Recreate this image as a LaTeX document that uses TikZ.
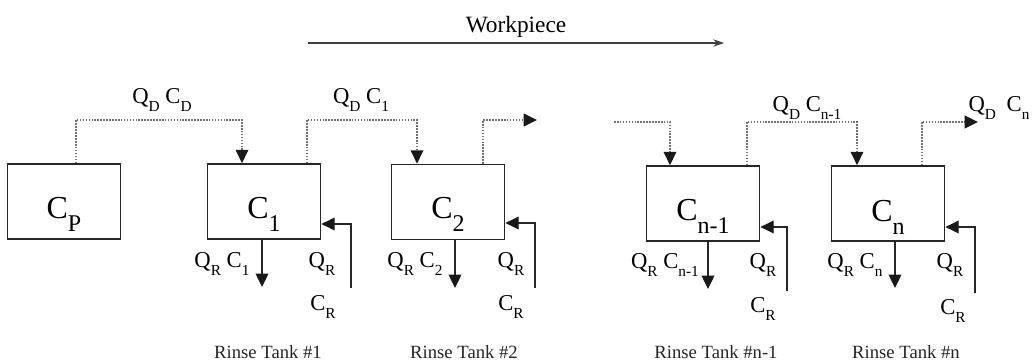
\documentclass[tikz,border=0pt]{standalone}
\usepackage{fontspec}
\setmainfont{Liberation Serif}
\usetikzlibrary{arrows.meta,calc}
\newcommand{\fsb}[1]{\lower6pt\hbox{\fontsize{11.5}{13}\selectfont #1}}
\newcommand{\bsb}[1]{\lower10pt\hbox{\fontsize{18}{20}\selectfont #1}}
\tikzset{
  tank/.style={draw=black!85, line width=1.3pt, minimum width=84.75pt, minimum height=56.25pt, inner sep=0pt},
  tanklabel/.style={anchor=base, font=\fontsize{24}{28}\selectfont, inner sep=0pt},
  flowlabel/.style={anchor=base, font=\fontsize{17}{19}\selectfont, inner sep=0pt},
  tanktitle/.style={anchor=base, font=\fontsize{14}{16}\selectfont, text=black!85, inner sep=0pt},
  tiptri/.style={-{Triangle[length=10pt,width=9.5pt,color=black!90]}},
  drag/.style={draw=black!55, line width=1.2pt, densely dotted, tiptri},
  rinse/.style={draw=black!85, line width=1pt, tiptri},
  workline/.style={draw=black!75, line width=1pt, -{Stealth[length=8pt,width=5.5pt]}},
}
\begin{document}
\begin{tikzpicture}[x=0.75pt,y=-0.75pt]
\useasboundingbox (0,0) rectangle (1033,364);
% workpiece direction
\node[anchor=base, font=\fontsize{17.5}{20}\selectfont, inner sep=0pt] (wp) at (516,32) {Workpiece};
\coordinate (wpa) at (308,43);
\coordinate (wpb) at (724,43);
\draw[workline] (wpa) -- (wpb);
% tanks
\node[tank] (cp)  at (64,201.5) {};
\node[tank] (c1)  at (264,201.5) {};
\node[tank] (c2)  at (448,202) {};
\node[tank] (cn1) at (703,203.5) {};
\node[tank] (cn)  at (888,203.5) {};
\node[tanklabel] (lcp)  at (64,218)  {C\bsb{P}};
\node[tanklabel] (lc1)  at (264,218) {C\bsb{1}};
\node[tanklabel] (lc2)  at (448,218) {C\bsb{2}};
\node[tanklabel] (lcn1) at (703,220) {C\bsb{n-1}};
\node[tanklabel] (lcn)  at (888,221) {C\bsb{n}};
% drag-out levels
\coordinate (lvlL) at (0,120);
\coordinate (lvlR) at (0,122);
\coordinate (cpo)  at ($(cp.north)+(12,0)$);
\coordinate (c1i)  at ($(c1.north)+(-22,0)$);
\coordinate (c1o)  at ($(c1.north)+(43,0)$);
\coordinate (c2i)  at ($(c2.north)+(-31,0)$);
\coordinate (c2o)  at ($(c2.north)+(35,0)$);
\coordinate (c2end) at (537,120);
\coordinate (cn1start) at (614,122);
\coordinate (cn1i) at ($(cn1.north)+(-33,0)$);
\coordinate (cn1o) at ($(cn1.north)+(44,0)$);
\coordinate (cni)  at ($(cn.north)+(-31,0)$);
\coordinate (cno)  at ($(cn.north)+(34,0)$);
\coordinate (cnend) at (978,122);
\draw[drag] (cpo) -- (cpo |- lvlL) -| (c1i);
\draw[drag] (c1o) -- (c1o |- lvlL) -| (c2i);
\draw[drag] (c2o) -- (c2o |- lvlL) -- (c2end);
\draw[drag] (cn1start) -| (cn1i);
\draw[drag] (cn1o) -- (cn1o |- lvlR) -| (cni);
\draw[drag] (cno) -- (cno |- lvlR) -- (cnend);
\node[flowlabel] (qdcd)  at (162,103) {Q\fsb{D} C\fsb{D}};
\node[flowlabel] (qdc1)  at (361,103) {Q\fsb{D} C\fsb{1}};
\node[flowlabel] (qdcn1) at (807,111) {Q\fsb{D} C\fsb{n-1}};
\node[flowlabel] (qdcn)  at (999,111) {Q\fsb{D}\hspace{8pt}C\fsb{n}};
% drains
\coordinate (c1dr)  at (262,287);
\coordinate (c2dr)  at (455,288);
\coordinate (cn1dr) at (708,289);
\coordinate (cndr)  at (895,288);
\draw[rinse] (c1.south -| c1dr) -- (c1dr);
\draw[rinse] (c2.south -| c2dr) -- (c2dr);
\draw[rinse] (cn1.south -| cn1dr) -- (cn1dr);
\draw[rinse] (cn.south -| cndr) -- (cndr);
% feeds
\coordinate (c1f)  at (351,288);  \coordinate (c1fy)  at (0,224);
\coordinate (c2f)  at (535,288);  \coordinate (c2fy)  at (0,223);
\coordinate (cn1f) at (787,291);  \coordinate (cn1fy) at (0,227);
\coordinate (cnf)  at (975,293);  \coordinate (cnfy)  at (0,227);
\draw[rinse] (c1f) |- (c1.east |- c1fy);
\draw[rinse] (c2f) |- (c2.east |- c2fy);
\draw[rinse] (cn1f) |- (cn1.east |- cn1fy);
\draw[rinse] (cnf) |- (cn.east |- cnfy);
% flow labels
\node[flowlabel] (qrc1)  at (222,267) {Q\fsb{R} C\fsb{1}};
\node[flowlabel] (qr1)   at (322,267) {Q\fsb{R}};
\node[flowlabel] (cr1)   at (323,310) {C\fsb{R}};
\node[flowlabel] (qrc2)  at (415,267) {Q\fsb{R} C\fsb{2}};
\node[flowlabel] (qr2)   at (511,267) {Q\fsb{R}};
\node[flowlabel] (cr2)   at (511,310) {C\fsb{R}};
\node[flowlabel] (qrcn1) at (665,268) {Q\fsb{R} C\fsb{n-1}};
\node[flowlabel] (qrn1)  at (763,268) {Q\fsb{R}};
\node[flowlabel] (crn1)  at (763,312) {C\fsb{R}};
\node[flowlabel] (qrcn)  at (855,268) {Q\fsb{R} C\fsb{n}};
\node[flowlabel] (qrn)   at (950,268) {Q\fsb{R}};
\node[flowlabel] (crn)   at (953,314) {C\fsb{R}};
% titles
\node[tanktitle] (rt1)  at (268,358) {Rinse Tank \#1};
\node[tanktitle] (rt2)  at (464,358) {Rinse Tank \#2};
\node[tanktitle] (rtn1) at (716,358) {Rinse Tank \#n-1};
\node[tanktitle] (rtn)  at (906,358) {Rinse Tank \#n};
\end{tikzpicture}
\end{document}
